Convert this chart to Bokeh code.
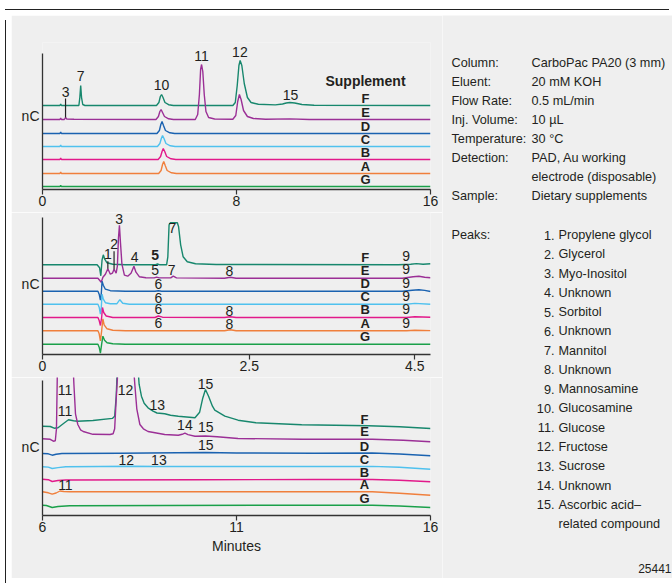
from bokeh.plotting import figure
from bokeh.layouts import row, column
from bokeh.models import Range1d, FixedTicker, NumeralTickFormatter, Div, Spacer
from bokeh.embed import file_html
from bokeh.resources import INLINE
from bokeh.core.properties import value

# ---------------- data ----------------
SUPPLEMENTS = ["F", "E", "D", "C", "B", "A", "G"]

# Panel 1: full run 0-16 min, (time [min], signal [nC, rel. to own baseline])
P1_F = [(0, 0), (0.72, 0), (0.75, 1.5), (0.78, 0), (1.50, 0), (1.54, 8), (1.575, 20), (1.61, 8),
        (1.66, 1), (1.75, 0), (4.70, 0), (4.80, 3), (4.86, 9), (4.91, 11), (4.97, 8), (5.05, 3),
        (5.2, 0.8), (5.4, 0), (7.85, 0), (7.95, 3), (8.03, 20), (8.10, 40), (8.15, 45), (8.22, 40),
        (8.32, 22), (8.45, 8), (8.6, 3), (8.9, 1.2), (9.6, 0.6), (9.9, 1.5), (10.05, 2.5), (10.2, 3),
        (10.4, 2.5), (10.7, 1), (11.2, 0.3), (16, 0)]
P1_E = [(0, 0), (0.72, 0), (0.75, 1.5), (0.78, 0), (0.90, 0), (0.95, 2), (1.0, 0.5), (1.3, 0.2),
        (4.68, 0), (4.78, 3), (4.84, 8), (4.89, 10), (4.95, 7), (5.03, 3), (5.2, 0.7), (5.4, 0),
        (6.30, 0), (6.40, 5), (6.47, 25), (6.52, 50), (6.56, 55), (6.61, 48), (6.67, 25), (6.74, 8),
        (6.85, 2), (7.1, 0.5), (7.85, 0.3), (7.97, 4), (8.05, 18), (8.12, 25), (8.19, 20), (8.29, 9),
        (8.45, 3), (8.7, 1), (9.2, 0.3), (10.2, 0.6), (11, 0), (16, 0)]
P1_D = [(0, 0), (0.72, 0), (0.75, 1.5), (0.78, 0), (4.72, 0), (4.82, 3), (4.88, 9), (4.93, 12),
        (4.99, 8), (5.07, 3), (5.25, 0.7), (5.45, 0), (16, 0)]
P1_C = [(0, 0), (0.72, 0), (0.75, 1.5), (0.78, 0), (4.74, 0), (4.84, 3), (4.90, 8), (4.95, 11),
        (5.01, 8), (5.09, 3), (5.27, 0.7), (5.47, 0), (16, 0)]
P1_B = [(0, 0), (0.72, 0), (0.75, 1.5), (0.78, 0), (4.77, 0), (4.87, 3), (4.93, 8), (4.98, 11),
        (5.04, 8), (5.12, 3), (5.30, 0.7), (5.50, 0), (16, 0)]
P1_A = [(0, 0), (0.72, 0), (0.75, 1.5), (0.78, 0), (4.79, 0), (4.89, 3), (4.95, 9), (5.00, 12),
        (5.06, 8), (5.14, 3), (5.32, 0.7), (5.52, 0), (16, 0)]
P1_G = [(0, 0), (0.72, 0), (0.75, 1), (0.78, 0), (16, 0)]

# Panel 2: expanded 0-4.69 min
P2_F = [(0, 0), (0.66, 0), (0.69, -3), (0.705, -11), (0.72, 5), (0.735, 10), (0.75, 6), (0.78, 2),
        (0.85, 0.5), (1.0, 0), (1.36, 0), (1.39, 0.8), (1.42, 0), (1.50, 0), (1.515, 8), (1.53, 40),
        (1.545, 42), (1.63, 42), (1.645, 38), (1.67, 20), (1.70, 8), (1.75, 3), (1.85, 1),
        (2.1, 0.3), (4.3, 0), (4.45, 0.5), (4.52, 1.2), (4.6, 0.5), (4.69, 1)]
P2_E = [(0, 0), (0.67, 0), (0.69, -2), (0.71, -4), (0.73, 1), (0.76, 4), (0.79, 9.5), (0.82, 4),
        (0.845, 5), (0.865, 9), (0.89, 5), (0.905, 12), (0.918, 40), (0.93, 53), (0.943, 35),
        (0.96, 14), (0.99, 3), (1.03, 2), (1.07, 5), (1.105, 12), (1.13, 6), (1.17, 1.5),
        (1.25, 0.5), (1.35, 0.3), (1.38, 1), (1.41, 0.3), (1.55, 0.3), (1.58, 2), (1.62, 0.3),
        (2.2, 0), (2.27, 1), (2.34, 0), (4.35, 0), (4.48, 1.5), (4.55, 2), (4.62, 1), (4.69, 0.5)]
P2_D = [(0, 0), (0.67, 0), (0.685, -3), (0.70, -9), (0.71, -3), (0.72, 10), (0.735, 6), (0.76, 2),
        (0.82, 0.5), (1.0, 0), (1.36, 0), (1.40, 0.5), (1.44, 0), (4.35, 0), (4.47, 1), (4.55, 1.5),
        (4.62, 0.8), (4.69, -0.3)]
P2_C = [(0, 0), (0.67, 0), (0.685, -3), (0.70, -10), (0.71, -4), (0.72, 10), (0.735, 5), (0.76, 1.5),
        (0.82, 0.5), (0.90, 0.5), (0.935, 4.5), (0.97, 1), (1.05, 0), (4.4, 0), (4.5, 0.8), (4.69, 0)]
P2_B = [(0, 0), (0.67, 0), (0.685, -3), (0.70, -8), (0.715, 0), (0.725, 10), (0.74, 5), (0.77, 1.5),
        (0.85, 0), (1.36, 0), (1.40, 1.5), (1.45, 0.3), (2.2, 0), (2.27, 0.8), (2.34, 0), (4.4, 0),
        (4.5, 0.8), (4.69, 0.3)]
P2_A = [(0, 0), (0.67, 0), (0.685, -3), (0.70, -10), (0.715, 0), (0.73, 12), (0.745, 6), (0.78, 2),
        (0.85, 0.5), (1.0, 0), (2.2, 0), (2.27, 1), (2.34, 0), (4.4, 0), (4.5, 0.6), (4.69, 0.2)]
P2_G = [(0, 0), (0.67, 0), (0.685, -3), (0.70, -9), (0.715, 0), (0.73, 8), (0.75, 4), (0.78, 1.5),
        (0.85, 0.5), (1.0, 0), (4.69, 0)]

# Panel 3: expanded 6-16 min
P3_F = [(6.0, 0), (6.2, -0.3), (6.3, -2), (6.4, -1.5), (6.55, 3), (6.67, 6.5), (6.8, 5.5), (6.9, 5),
        (7.3, 5.7), (7.80, 7.8), (7.86, 10), (7.90, 30), (7.93, 60), (8.0, 200), (8.14, 400),
        (8.3, 200), (8.42, 80), (8.49, 42), (8.55, 30), (8.62, 23), (8.72, 18.4), (8.85, 15),
        (8.95, 13.2), (9.15, 12.4), (9.3, 11), (9.5, 10), (9.93, 8.4), (10.05, 14), (10.13, 28),
        (10.2, 36.7), (10.28, 30), (10.38, 20), (10.44, 16), (10.7, 10), (11.04, 6), (11.5, 3.5),
        (12.68, 1.4), (14.4, 0.4), (15.2, -0.5), (16, -2.3)]
P3_E = [(6.0, 0), (6.2, -0.5), (6.28, -2.4), (6.33, -2), (6.36, 10), (6.38, 60), (6.42, 200),
        (6.57, 500), (6.72, 200), (6.78, 80), (6.81, 54), (6.85, 25), (6.91, 14.3), (6.98, 9),
        (7.05, 7.3), (7.3, 4.5), (7.74, 4.3), (7.82, 5), (7.86, 10), (7.90, 40), (7.93, 60),
        (8.0, 150), (8.12, 250), (8.25, 150), (8.35, 70), (8.38, 54), (8.43, 30), (8.51, 14.3),
        (8.6, 10), (8.72, 7.3), (9.15, 4.3), (9.5, 3.6), (9.6, 4.5), (9.67, 5.6), (9.75, 4.2),
        (9.93, 2.6), (10.2, 2.8), (10.5, 2), (11.04, 0.3), (12.7, -0.4), (14.5, -0.5),
        (15.3, -1.5), (16, -3)]
P3_D = [(6, 0), (6.15, -0.3), (6.25, -1.7), (6.35, -0.8), (6.5, 0), (8, 0.3), (10.2, 1), (11, 0.5),
        (13, 0.3), (14.5, 0.5), (15.2, -0.5), (16, -2.3)]
P3_C = [(6, 0), (6.15, -0.3), (6.25, -1.7), (6.4, -0.8), (6.6, 0), (8.3, 0.5), (9, 0.3), (13, 0.3),
        (14.5, 0.4), (15.2, -0.5), (16, -2.4)]
P3_B = [(6, 0), (6.15, -0.5), (6.25, -2.3), (6.4, -1.3), (6.6, -0.8), (10, -0.5), (13, -0.3),
        (14.5, -0.3), (15.2, -1), (16, -2.6)]
P3_A = [(6, 0), (6.15, -1), (6.25, -2.4), (6.35, -1.2), (6.45, 0.8), (6.55, 0.3), (6.7, 0), (13, 0),
        (14.5, 0), (15.2, -1.5), (16, -3.4)]
P3_G = [(6, 0), (6.1, -0.3), (6.25, -2.3), (6.4, -1.3), (6.7, -0.5), (13, 0), (14.5, 0),
        (15.2, -0.8), (16, -2.3)]

# peak labels: text, time, height
P1_LBL_TEXT = ["3", "7", "10", "11", "12", "15"]
P1_LBL_T = [0.95, 1.57, 4.91, 6.56, 8.14, 10.23]
P1_LBL_Y = [98, 114, 105, 134, 138, 95]
P1_LEADER = [(0, "E")]           # label index, trace with leader line

P2_LBL_TEXT = ["1", "2", "3", "4", "7", "5", "7", "8", "6", "6", "6", "6", "8", "8",
               "9", "9", "9", "9", "9", "9"]
P2_LBL_T = [0.79, 0.865, 0.926, 1.115, 1.57, 1.361, 1.562, 2.258, 1.401, 1.401, 1.401, 1.401,
            2.258, 2.258, 4.396, 4.396, 4.396, 4.396, 4.396, 4.396]
P2_LBL_Y = [100.3, 110.3, 136, 98, 127, 85, 85, 84, 70.3, 57, 45.5, 32, 43.7, 31,
            98.7, 85.5, 72, 58.7, 45.3, 32]
P2_LEADER = [(0, "E"), (1, "E")]
P2_BOLD_TEXT = ["5"]
P2_BOLD_T = [1.361]
P2_BOLD_Y = [100]

P3_LBL_TEXT = ["11", "11", "12", "13", "15", "14", "15", "15", "12", "13", "11"]
P3_LBL_T = [6.58, 6.58, 8.14, 8.96, 10.2, 9.67, 10.21, 10.21, 8.16, 9.0, 6.59]
P3_LBL_Y = [126, 104.3, 125.3, 111, 132, 90.3, 88.3, 70.3, 55.7, 55.7, 30.7]

X_TICKS = [[0, 8, 16], [0, 2.5, 4.5], [6, 11, 16]]

PARAM_LABELS = ["Column:", "Eluent:", "Flow Rate:", "Inj. Volume:", "Temperature:",
                "Detection:", "", "Sample:"]
PARAM_VALUES = ["CarboPac PA20 (3 mm)", "20 mM KOH", "0.5 mL/min", "10 µL", "30 °C",
                "PAD, Au working", "electrode (disposable)", "Dietary supplements"]
PEAK_NUMS = ["1.", "2.", "3.", "4.", "5.", "6.", "7.", "8.", "9.", "10.", "11.", "12.", "13.",
             "14.", "15.", ""]
PEAK_NAMES = ["Propylene glycol", "Glycerol", "Myo-Inositol", "Unknown", "Sorbitol", "Unknown",
              "Mannitol", "Unknown", "Mannosamine", "Glucosamine", "Glucose", "Fructose",
              "Sucrose", "Unknown", "Ascorbic acid\u2013", "related compound"]
FIG_ID = "25441"

# ---------------- styles / layout ----------------
COLORS = {"F": "#17876d", "E": "#9b2f96", "D": "#1a62b0", "C": "#4fc1ee",
          "B": "#e2198a", "A": "#f07f3c", "G": "#1aa04a"}
BG = "#efefef"
TXT = "#231f20"
AX = "#333333"
FONT = "Liberation Sans"
FS = "14px"      # chart labels
RFS = "12.7px"   # right-hand text

OFFS = [[84, 70, 56, 43, 30, 16, 3],
        [89.7, 76.3, 63.3, 50.3, 37, 23.7, 10.3],
        [89.3, 76.7, 62, 48.7, 36.3, 23.7, 10.3]]
LETTER_T = [13.32, 3.90, 14.30]
LETTER_RAISE = [7.4, 7.6, 7.0]


def make_panel(xr, ytop, yaxis_top, ticks, top, bottom, height, xlabel=None):
    p = figure(width=431, height=height, x_range=Range1d(*xr), y_range=Range1d(0, ytop),
               output_backend="svg", toolbar_location=None, title=None,
               min_border_left=31, min_border_right=12, min_border_top=top,
               min_border_bottom=bottom, background_fill_color=BG, border_fill_color=BG,
               outline_line_color=None)
    p.grid.visible = False
    xa = p.xaxis[0]
    xa.ticker = FixedTicker(ticks=ticks, minor_ticks=[])
    xa.formatter = NumeralTickFormatter(format="0[.]0")
    xa.major_tick_out = 5
    xa.major_tick_in = 0
    xa.minor_tick_out = 0
    xa.major_label_standoff = 1
    xa.major_label_text_font = FONT
    xa.major_label_text_font_size = FS
    xa.major_label_text_color = TXT
    xa.axis_line_color = AX
    xa.axis_line_width = 1.3
    xa.major_tick_line_color = AX
    xa.major_tick_line_width = 1.2
    if xlabel:
        xa.axis_label = xlabel
        xa.axis_label_text_font = FONT
        xa.axis_label_text_font_size = FS
        xa.axis_label_text_font_style = "normal"
        xa.axis_label_text_color = TXT
        xa.axis_label_standoff = 3
    ya = p.yaxis[0]
    ya.ticker = FixedTicker(ticks=[], minor_ticks=[])
    ya.bounds = (0, yaxis_top)
    ya.major_tick_out = 0
    ya.major_label_text_font_size = "0px"
    ya.axis_line_color = AX
    ya.axis_line_width = 1.3
    ya.axis_label = "nC"
    ya.axis_label_text_font = FONT
    ya.axis_label_text_font_size = FS
    ya.axis_label_text_font_style = "normal"
    ya.axis_label_text_color = TXT
    ya.axis_label_standoff = 3
    try:
        ya.axis_label_orientation = "horizontal"
    except AttributeError:
        pass
    return p


def draw(p, traces, offs, letter_t, raise_):
    for name, pts, off in zip(SUPPLEMENTS, traces, offs):
        p.line([t for t, _ in pts], [off + v for _, v in pts],
               line_color=COLORS[name], line_width=1.4)
    p.text(x=[letter_t] * len(SUPPLEMENTS), y=[o + raise_ for o in offs], text=SUPPLEMENTS,
           text_font=value(FONT), text_font_style="bold", text_font_size=value("13px"),
           text_color=TXT, text_align="center", text_baseline="middle")


def signal_at(pts, t):
    for (t0, v0), (t1, v1) in zip(pts[:-1], pts[1:]):
        if t0 <= t <= t1:
            return v0 + (v1 - v0) * (t - t0) / (t1 - t0) if t1 > t0 else v0
    return pts[-1][1]


def labels(p, txt, ts, ys, leaders, traces, offs):
    p.text(x=ts, y=ys, text=txt, text_font=value(FONT), text_font_size=value(FS),
           text_color=TXT, text_align="center", text_baseline="middle")
    if leaders:
        x0, y0, y1 = [], [], []
        for idx, tr in leaders:
            k = SUPPLEMENTS.index(tr)
            t = ts[idx]
            x0.append(t)
            y0.append(ys[idx] - 7)
            y1.append(offs[k] + signal_at(traces[k], t))
        p.segment(x0=x0, y0=y0, x1=x0, y1=y1, line_color="#222222", line_width=1.2)


T1 = [P1_F, P1_E, P1_D, P1_C, P1_B, P1_A, P1_G]
T2 = [P2_F, P2_E, P2_D, P2_C, P2_B, P2_A, P2_G]
T3 = [P3_F, P3_E, P3_D, P3_C, P3_B, P3_A, P3_G]

# panel 1: page rows 13..210, frame 40..187
p1 = make_panel((0, 16), 147, 136, X_TICKS[0], 27, 23, 197)
draw(p1, T1, OFFS[0], LETTER_T[0], LETTER_RAISE[0])
labels(p1, P1_LBL_TEXT, P1_LBL_T, P1_LBL_Y, P1_LEADER, T1, OFFS[0])
p1.text(x=[LETTER_T[0]], y=[109], text=["Supplement"], text_font=value(FONT),
        text_font_size=value("14px"), text_font_style="bold", text_color=TXT,
        text_align="center", text_baseline="middle")

# panel 2: page rows 210..375, frame 210..352
p2 = make_panel((0, 4.69), 142, 137, X_TICKS[1], 0, 23, 165)
draw(p2, T2, OFFS[1], LETTER_T[1], LETTER_RAISE[1])
labels(p2, P2_LBL_TEXT, P2_LBL_T, P2_LBL_Y, P2_LEADER, T2, OFFS[1])
p2.text(x=P2_BOLD_T, y=P2_BOLD_Y, text=P2_BOLD_TEXT, text_font=value(FONT),
        text_font_size=value(FS), text_font_style="bold", text_color=TXT,
        text_align="center", text_baseline="middle")

# panel 3: page rows 375..576, frame 375..513
p3 = make_panel((6, 16), 138, 135, X_TICKS[2], 0, 63, 201, xlabel="Minutes")
draw(p3, T3, OFFS[2], LETTER_T[2], LETTER_RAISE[2])
labels(p3, P3_LBL_TEXT, P3_LBL_T, P3_LBL_Y, [], T3, OFFS[2])

# right-hand text panel (coordinates in page pixels)
pr = figure(width=232, height=563, x_range=Range1d(440, 672), y_range=Range1d(576, 13),
            output_backend="svg", toolbar_location=None, title=None, min_border=0,
            background_fill_color=BG, border_fill_color=BG, outline_line_color=None)
pr.axis.visible = False
pr.grid.visible = False
row_h = 19.1
ys = [60 + i * row_h for i in range(len(PARAM_LABELS))]
pr.text(x=[449] * len(ys), y=ys, text=PARAM_LABELS, text_font=value(FONT),
        text_font_size=value(RFS), text_color=TXT, text_baseline="middle")
pr.text(x=[529] * len(ys), y=ys, text=PARAM_VALUES, text_font=value(FONT),
        text_font_size=value(RFS), text_color=TXT, text_baseline="middle")
pk_h = 19.27
ys2 = [232.5 + i * pk_h for i in range(len(PEAK_NAMES))]
pr.text(x=[449], y=[ys2[0]], text=["Peaks:"], text_font=value(FONT),
        text_font_size=value(RFS), text_color=TXT, text_baseline="middle")
pr.text(x=[552] * len(ys2), y=ys2, text=PEAK_NUMS, text_font=value(FONT),
        text_font_size=value(RFS), text_color=TXT, text_baseline="middle",
        text_align="right")
pr.text(x=[556] * len(ys2), y=ys2, text=PEAK_NAMES, text_font=value(FONT),
        text_font_size=value(RFS), text_color=TXT, text_baseline="middle")
pr.text(x=[669], y=[566], text=[FIG_ID], text_font=value(FONT),
        text_font_size=value("12px"), text_color=TXT, text_baseline="middle",
        text_align="right")

LINE = "#222222"
top_line = Div(width=664, height=1, styles={"background-color": LINE})
left_line = Div(width=1, height=563, styles={"background-color": LINE})
left = column(p1, p2, p3, spacing=0)
body = row(left_line, left, pr, spacing=0)
root = column(Spacer(width=664, height=4), top_line, body, spacing=0)

open("out.html", "w").write(file_html(root, INLINE))
